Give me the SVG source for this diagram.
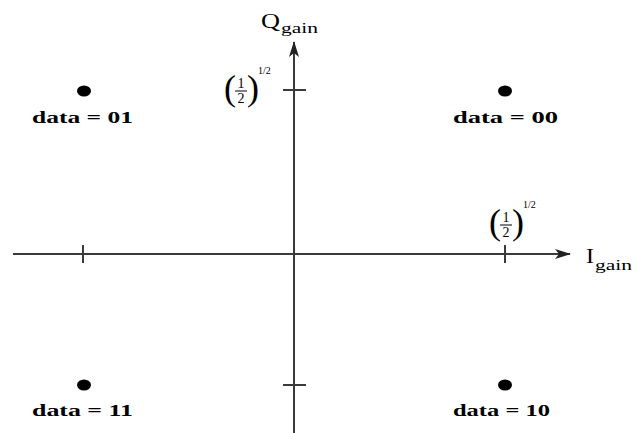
<svg xmlns="http://www.w3.org/2000/svg" width="640" height="433" viewBox="0 0 640 433">
<style>
.ax{stroke:#3a3a3a;stroke-width:2;fill:none}
.tk{stroke:#3a3a3a;stroke-width:2}
.lbl{font-family:"Liberation Serif","Times New Roman",serif;font-size:17px;font-weight:bold;fill:#000}
.ser{font-family:"Liberation Serif","Times New Roman",serif;fill:#000}
.par{font-family:"Liberation Serif","Times New Roman",serif;font-size:36px;fill:#000}
.dig{font-family:"Liberation Serif","Times New Roman",serif;font-size:14px;fill:#000;text-anchor:middle}
.sup{font-family:"Liberation Serif","Times New Roman",serif;font-size:10px;fill:#000}
.dot{fill:#000}
</style>
<defs>
<marker id="ah" viewBox="0 0 16 10" refX="15" refY="5" markerWidth="16" markerHeight="10" markerUnits="userSpaceOnUse" orient="auto">
<path d="M0,0 L16,5 L0,10 L4,5 Z" fill="#222"/>
</marker>
</defs>
<g id="connectors">
<line id="i-axis" class="ax" x1="13" y1="254" x2="570" y2="254" marker-end="url(#ah)"/>
<line id="q-axis" class="ax" x1="294" y1="433" x2="294" y2="42" marker-end="url(#ah)"/>
<line class="tk" x1="83" y1="245" x2="83" y2="263"/>
<line class="tk" x1="505" y1="245" x2="505" y2="263"/>
<line class="tk" x1="283" y1="90" x2="306" y2="90"/>
<line class="tk" x1="283" y1="385" x2="306" y2="385"/>
</g>
<g id="axis-labels">
<g id="q-label">
<text class="ser" x="261" y="28" font-size="22" textLength="19" lengthAdjust="spacingAndGlyphs">Q</text>
<text class="ser" x="281" y="33" font-size="14" textLength="37" lengthAdjust="spacingAndGlyphs">gain</text>
</g>
<g id="i-label">
<text class="ser" x="586" y="263" font-size="22" textLength="8" lengthAdjust="spacingAndGlyphs">I</text>
<text class="ser" x="595" y="270" font-size="14" textLength="37" lengthAdjust="spacingAndGlyphs">gain</text>
</g>
</g>
<g id="frac-q">
<text class="par" x="224" y="100">(</text>
<text class="par" x="247" y="100">)</text>
<text class="dig" x="241" y="88">1</text>
<line x1="235" y1="91" x2="247" y2="91" stroke="#000" stroke-width="1"/>
<text class="dig" x="241" y="103">2</text>
<text class="sup" x="258" y="74">1/2</text>
</g>
<g id="frac-i">
<text class="par" x="489" y="234">(</text>
<text class="par" x="512" y="234">)</text>
<text class="dig" x="506" y="222">1</text>
<line x1="500" y1="225" x2="512" y2="225" stroke="#000" stroke-width="1"/>
<text class="dig" x="506" y="237">2</text>
<text class="sup" x="523" y="208">1/2</text>
</g>
<g id="pt01">
<ellipse class="dot" cx="84" cy="91" rx="7" ry="5.5"/>
<text class="lbl" x="32" y="123" textLength="101" lengthAdjust="spacingAndGlyphs">data = 01</text>
</g>
<g id="pt00">
<ellipse class="dot" cx="505" cy="91" rx="7" ry="5.5"/>
<text class="lbl" x="453" y="123" textLength="105" lengthAdjust="spacingAndGlyphs">data = 00</text>
</g>
<g id="pt11">
<ellipse class="dot" cx="84" cy="385" rx="7" ry="5.5"/>
<text class="lbl" x="32" y="416" textLength="101" lengthAdjust="spacingAndGlyphs">data = 11</text>
</g>
<g id="pt10">
<ellipse class="dot" cx="505" cy="385" rx="7" ry="5.5"/>
<text class="lbl" x="453" y="416" textLength="97" lengthAdjust="spacingAndGlyphs">data = 10</text>
</g>
</svg>
